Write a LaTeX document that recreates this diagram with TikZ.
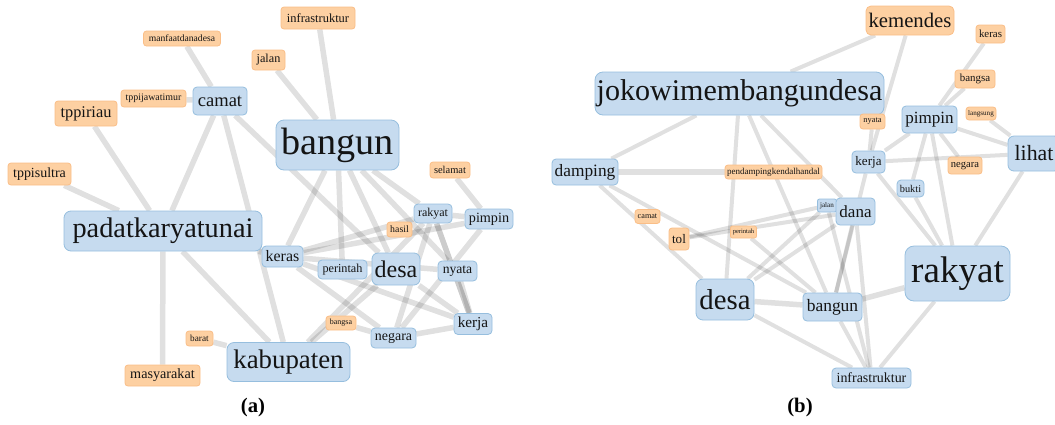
\documentclass[tikz,border=0pt]{standalone}
\usepackage{fontspec}
\setmainfont{Liberation Serif}[Scale=1.09]
\usepackage{tikz}
\usetikzlibrary{positioning,backgrounds}

\definecolor{topicfill}{RGB}{198,219,239}
\definecolor{topicdraw}{RGB}{150,190,222}
\definecolor{minorfill}{RGB}{253,208,162}
\definecolor{minordraw}{RGB}{250,190,135}
\definecolor{wordink}{RGB}{20,20,20}

\newcommand{\fs}[1]{\fontsize{#1}{#1}\selectfont}

\begin{document}
\begin{tikzpicture}[
    x=1pt, y=-1pt,
    topic/.style={rectangle, draw=topicdraw, fill=topicfill, text=wordink, line width=0.8pt, rounded corners=4pt, inner sep=0pt},
    minor/.style={rectangle, draw=minordraw, fill=minorfill, text=wordink, line width=0.8pt, rounded corners=3pt, inner sep=0pt},
    link/.style={line width=5.5pt, black, opacity=0.12},
    slimlink/.style={line width=4pt, black, opacity=0.12},
    caption/.style={font=\fs{19}\bfseries}
]
\useasboundingbox (0,0) rectangle (1055,424);

% (a) words
\node[minor, minimum width=74, minimum height=22, font=\fs{11.4}] (ainfra) at (318,18) {infrastruktur};
\node[minor, minimum width=77, minimum height=15, font=\fs{8.8}] (amanfaat) at (182,38.5) {manfaatdanadesa};
\node[minor, minimum width=33, minimum height=20, font=\fs{11.2}] (ajalan) at (268.5,60) {jalan};
\node[minor, minimum width=65, minimum height=17, font=\fs{9.1}] (atppijatim) at (153.5,98.5) {tppijawatimur};
\node[topic, minimum width=54, minimum height=28, font=\fs{17}] (acamat) at (220,101) {camat};
\node[minor, minimum width=62, minimum height=25, font=\fs{15}] (atppiriau) at (86,113.5) {tppiriau};
\node[topic, minimum width=123, minimum height=50, font=\fs{35}, rounded corners=8pt] (abangun) at (337.5,145) {bangun};
\node[minor, minimum width=40, minimum height=16, font=\fs{9.6}] (aselamat) at (450,170) {selamat};
\node[minor, minimum width=63, minimum height=22, font=\fs{12.8}] (atppisultra) at (39.5,174) {tppisultra};
\node[topic, minimum width=198, minimum height=40, font=\fs{26}, rounded corners=7pt] (apadat) at (163,231) {padatkaryatunai};
\node[topic, minimum width=38, minimum height=19, font=\fs{11}] (arakyat) at (433,213.5) {rakyat};
\node[topic, minimum width=48, minimum height=20, font=\fs{13}] (apimpin) at (489,219) {pimpin};
\node[minor, minimum width=25, minimum height=15, font=\fs{9}] (ahasil) at (399.5,229.5) {hasil};
\node[topic, minimum width=41, minimum height=21, font=\fs{14.6}] (akeras) at (282.5,256.5) {keras};
\node[topic, minimum width=49, minimum height=19, font=\fs{11.2}] (aperintah) at (342.5,269.5) {perintah};
\node[topic, minimum width=48, minimum height=32, font=\fs{22}, rounded corners=6pt] (adesa) at (396,269) {desa};
\node[topic, minimum width=39, minimum height=20, font=\fs{12.5}] (anyata) at (457.5,271) {nyata};
\node[minor, minimum width=30, minimum height=14, font=\fs{7.3}] (abangsa) at (341,323) {bangsa};
\node[topic, minimum width=38, minimum height=21, font=\fs{14}] (akerja) at (473,324) {kerja};
\node[topic, minimum width=45, minimum height=20, font=\fs{12.8}] (anegara) at (393.5,338) {negara};
\node[minor, minimum width=27, minimum height=15, font=\fs{8.5}] (abarat) at (199.5,338.5) {barat};
\node[topic, minimum width=123, minimum height=39, font=\fs{24.6}, rounded corners=7pt] (akabupaten) at (288.5,362) {kabupaten};
\node[minor, minimum width=75, minimum height=21, font=\fs{13}] (amasyarakat) at (162.5,375.5) {masyarakat};

% (b) words
\node[minor, minimum width=88, minimum height=29, font=\fs{19}, rounded corners=5pt] (bkemendes) at (910,20.5) {kemendes};
\node[minor, minimum width=29, minimum height=18, font=\fs{10}] (bkeras) at (990.5,34) {keras};
\node[topic, minimum width=289, minimum height=43, font=\fs{27.6}, rounded corners=8pt] (bjokowi) at (739.5,93.5) {jokowimembangundesa};
\node[minor, minimum width=40, minimum height=18, font=\fs{10}] (bbangsa) at (975,79) {bangsa};
\node[minor, minimum width=25, minimum height=15, font=\fs{7.7}] (bnyata) at (872.5,121.5) {nyata};
\node[topic, minimum width=55, minimum height=27, font=\fs{15.7}] (bpimpin) at (929.5,119.5) {pimpin};
\node[minor, minimum width=30, minimum height=13, font=\fs{6.5}] (blangsung) at (981,113.5) {langsung};
\node[topic, minimum width=52, minimum height=35, font=\fs{20}, rounded corners=6pt] (blihat) at (1034,153.5) {lihat};
\node[topic, minimum width=33, minimum height=22, font=\fs{12}] (bkerja) at (868.5,162) {kerja};
\node[minor, minimum width=34, minimum height=17, font=\fs{9.7}] (bnegara) at (965,165.5) {negara};
\node[topic, minimum width=66, minimum height=26, font=\fs{15.9}] (bdamping) at (585,172) {damping};
\node[minor, minimum width=97, minimum height=14, font=\fs{8.3}] (bpendamping) at (773.5,172) {pendampingkendalhandal};
\node[topic, minimum width=27, minimum height=17, font=\fs{9.5}] (bbukti) at (910.5,188.5) {bukti};
\node[topic, minimum width=19, minimum height=13, font=\fs{6.5}, rounded corners=2pt] (bjalan) at (827,205.5) {jalan};
\node[topic, minimum width=39, minimum height=27, font=\fs{15.6}] (bdana) at (855.5,211.5) {dana};
\node[minor, minimum width=25, minimum height=14, font=\fs{7.5}] (bcamat) at (647.5,216.5) {camat};
\node[minor, minimum width=20, minimum height=22, font=\fs{12}] (btol) at (679,239) {tol};
\node[minor, minimum width=26, minimum height=12, font=\fs{6}, rounded corners=2pt] (bperintah) at (743.5,232) {perintah};
\node[topic, minimum width=58, minimum height=41, font=\fs{26.4}, rounded corners=7pt] (bdesa) at (725,299.5) {desa};
\node[topic, minimum width=59, minimum height=28, font=\fs{16}] (bbangun) at (832.5,307) {bangun};
\node[topic, minimum width=105, minimum height=55, font=\fs{34}, rounded corners=9pt] (brakyat) at (957.5,273.5) {rakyat};
\node[topic, minimum width=79, minimum height=20, font=\fs{12.8}] (binfra) at (871.5,378) {infrastruktur};

% captions
\node[caption] (capa) at (253,408) {(a)};
\node[caption] (capb) at (800,408) {(b)};

% links behind the words
\begin{scope}[on background layer]
% (a)
\draw[link] (ainfra) -- (abangun);
\draw[link] (ajalan) -- (abangun);
\draw[link] (amanfaat) -- (acamat);
\draw[link] (atppijatim) -- (acamat);
\draw[link] (atppiriau) -- (apadat);
\draw[link] (atppisultra) -- (apadat);
\draw[link] (acamat) -- (apadat);
\draw[link] (acamat) -- (akabupaten);
\draw[link] (acamat) -- (adesa);
\draw[link] (apadat) -- (amasyarakat);
\draw[link] (apadat) -- (akabupaten);
\draw[link] (apadat) -- (akeras);
\draw[link] (abarat) -- (akabupaten);
\draw[link] (abangun) -- (akeras);
\draw[link] (abangun) -- (aperintah);
\draw[link] (abangun) -- (adesa);
\draw[link] (abangun) -- (anyata);
\draw[link] (abangun) -- (arakyat);
\draw[link] (aselamat) -- (apimpin);
\draw[link] (arakyat) -- (apimpin);
\draw[link, opacity=0.2] (arakyat) -- (akerja);
\draw[link] (arakyat) -- (anegara);
\draw[link] (apimpin) -- (anegara);
\draw[link] (akeras) -- (arakyat);
\draw[link] (akeras) -- (apimpin);
\draw[link] (akeras) -- (anyata);
\draw[link] (akeras) -- (akerja);
\draw[link] (akeras) -- (anegara);
\draw[link] (adesa) -- (akerja);
\draw[link] (adesa) -- (akabupaten);
\draw[link] (arakyat) -- (akabupaten);
\draw[link] (abangsa) -- (anegara);
\draw[link] (anegara) -- (akerja);
\draw[link] (anyata) -- (akerja);
% (b)
\draw[slimlink] (bkemendes) -- (bjokowi);
\draw[slimlink] (bkemendes) -- (bkerja);
\draw[slimlink] (bkeras) -- (bpimpin);
\draw[slimlink] (bbangsa) -- (bpimpin);
\draw[slimlink] (bpimpin) -- (blihat);
\draw[slimlink] (blangsung) -- (blihat);
\draw[slimlink] (bkerja) -- (blihat);
\draw[slimlink] (blihat) -- (brakyat);
\draw[slimlink] (bpimpin) -- (bkerja);
\draw[slimlink] (bpimpin) -- (brakyat);
\draw[slimlink] (bpimpin) -- (bnegara);
\draw[slimlink] (bpimpin) -- (bbukti);
\draw[slimlink] (bnyata) -- (bkerja);
\draw[slimlink] (bkerja) -- (brakyat);
\draw[slimlink] (bkerja) -- (bbangun);
\draw[slimlink] (bbukti) -- (brakyat);
\draw[slimlink] (bjokowi) -- (bdamping);
\draw[slimlink] (bjokowi) -- (bdesa);
\draw[slimlink] (bjokowi) -- (bbangun);
\draw[slimlink] (bjokowi) -- (bdana);
\draw[link] (bdamping) -- (bpendamping);
\draw[slimlink] (bdamping) -- (bdesa);
\draw[slimlink] (bdamping) -- (bbangun);
\draw[slimlink] (btol) -- (bjalan);
\draw[slimlink] (btol) -- (bdana);
\draw[slimlink] (bdesa) -- (bdana);
\draw[slimlink] (bdesa) -- (bjalan);
\draw[link] (bdesa) -- (bbangun);
\draw[slimlink] (bdesa) -- (binfra);
\draw[link] (bbangun) -- (brakyat);
\draw[slimlink] (bbangun) -- (binfra);
\draw[slimlink] (bbangun) -- (bdana);
\draw[slimlink] (bperintah) -- (bbangun);
\draw[slimlink] (brakyat) -- (binfra);
\draw[slimlink] (bdana) -- (binfra);
\draw[slimlink] (bjalan) -- (binfra);
\end{scope}
\end{tikzpicture}
\end{document}
